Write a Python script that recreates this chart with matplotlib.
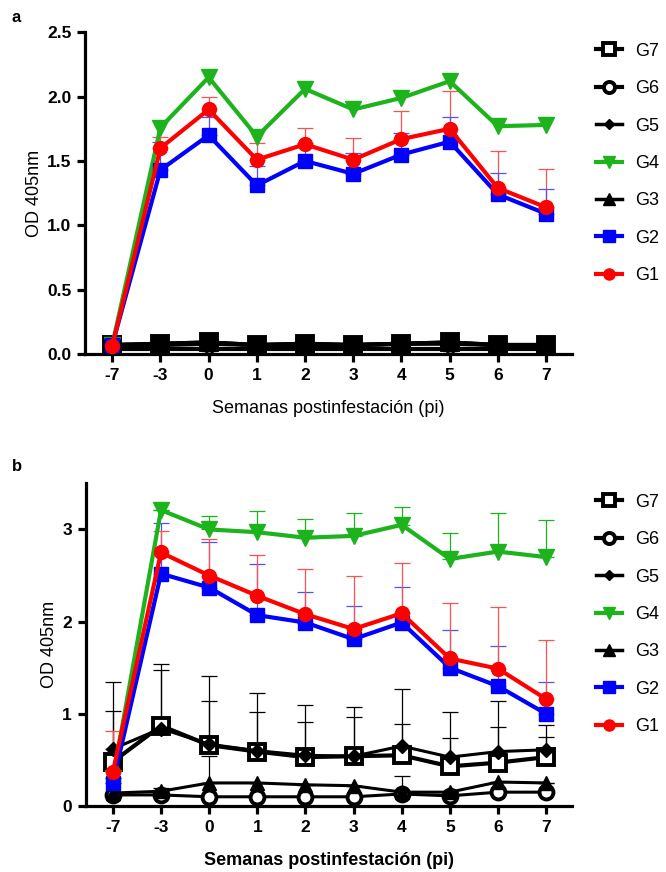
import numpy as np
import matplotlib
matplotlib.use("Agg")
import matplotlib.pyplot as plt
from matplotlib.lines import Line2D

plt.rcParams['font.family'] = ['Liberation Sans', 'DejaVu Sans']

weeks = ["-7", "-3", "0", "1", "2", "3", "4", "5", "6", "7"]
groups = ["G7", "G6", "G5", "G4", "G3", "G2", "G1"]

# panel a - mean values
a_g1 = [0.06, 1.60, 1.90, 1.51, 1.63, 1.51, 1.67, 1.75, 1.29, 1.14]
a_g2 = [0.07, 1.43, 1.70, 1.31, 1.50, 1.40, 1.55, 1.65, 1.24, 1.09]
a_g3 = [0.07, 0.07, 0.08, 0.07, 0.07, 0.07, 0.08, 0.08, 0.07, 0.07]
a_g4 = [0.07, 1.76, 2.15, 1.69, 2.06, 1.90, 1.99, 2.12, 1.77, 1.78]
a_g5 = [0.07, 0.08, 0.09, 0.07, 0.08, 0.07, 0.08, 0.09, 0.07, 0.07]
a_g6 = [0.04, 0.04, 0.04, 0.04, 0.04, 0.04, 0.04, 0.04, 0.04, 0.04]
a_g7 = [0.07, 0.08, 0.09, 0.07, 0.08, 0.07, 0.08, 0.09, 0.07, 0.07]
# panel a - top of error bars
a_g1_up = [0.06, 1.69, 2.00, 1.64, 1.76, 1.68, 1.89, 2.04, 1.58, 1.44]
a_g2_up = [0.07, 1.65, 1.84, 1.46, 1.64, 1.56, 1.72, 1.84, 1.41, 1.28]

# panel b - mean values
b_g1 = [0.37, 2.75, 2.50, 2.28, 2.08, 1.92, 2.09, 1.60, 1.49, 1.16]
b_g2 = [0.25, 2.52, 2.37, 2.07, 1.99, 1.81, 1.99, 1.50, 1.30, 1.00]
b_g3 = [0.14, 0.16, 0.25, 0.25, 0.23, 0.22, 0.15, 0.15, 0.26, 0.25]
b_g4 = [0.30, 3.21, 3.00, 2.97, 2.91, 2.93, 3.05, 2.68, 2.76, 2.70]
b_g5 = [0.62, 0.84, 0.67, 0.60, 0.55, 0.54, 0.65, 0.53, 0.59, 0.61]
b_g6 = [0.12, 0.12, 0.10, 0.10, 0.10, 0.10, 0.13, 0.11, 0.15, 0.15]
b_g7 = [0.48, 0.87, 0.66, 0.59, 0.53, 0.54, 0.55, 0.43, 0.47, 0.53]
# panel b - top of error bars
b_g1_up = [0.81, 2.98, 2.90, 2.72, 2.57, 2.49, 2.64, 2.20, 2.16, 1.80]
b_g2_up = [0.25, 3.07, 2.86, 2.62, 2.32, 2.17, 2.38, 1.91, 1.74, 1.35]
b_g3_up = [0.14, 0.19, 0.54, 0.25, 0.23, 0.22, 0.33, 0.15, 0.26, 0.25]
b_g4_up = [0.30, 3.21, 3.15, 3.20, 3.11, 3.18, 3.24, 2.96, 3.18, 3.10]
b_g5_up = [1.34, 1.54, 1.41, 1.23, 1.10, 1.07, 1.27, 1.02, 1.14, 0.88]
b_g6_up = [0.12, 0.12, 0.10, 0.10, 0.10, 0.10, 0.13, 0.11, 0.15, 0.15]
b_g7_up = [1.03, 1.47, 1.14, 1.02, 0.91, 0.96, 0.89, 0.74, 0.86, 0.75]

GREEN = "#1db31d"
BLUE = "#0000ff"
RED = "#ff0000"

styles = {
    "G7": dict(color="black", marker="s", ms=11, mfc="white", mec="black", mew=2.8),
    "G6": dict(color="black", marker="o", ms=10, mfc="white", mec="black", mew=2.8),
    "G5": dict(color="black", marker="D", ms=7, mfc="black", mec="black"),
    "G4": dict(color=GREEN, marker="v", ms=11, mfc=GREEN, mec=GREEN),
    "G3": dict(color="black", marker="^", ms=10, mfc="black", mec="black"),
    "G2": dict(color=BLUE, marker="s", ms=10, mfc=BLUE, mec=BLUE),
    "G1": dict(color=RED, marker="o", ms=10, mfc=RED, mec=RED),
}
err_colors = {"G7": "black", "G6": "black", "G5": "black", "G3": "black",
              "G4": GREEN, "G2": "#5050ff", "G1": "#ff5050"}


def draw(ax, series, ups, lw_map, ylim, yticks, yfmt, override=None):
    override = override or {}
    x = np.arange(len(weeks))
    # error bars first (upper only)
    for name, up in ups.items():
        y = np.array(series[name])
        u = np.array(up) - y
        ax.errorbar(x, y, yerr=[np.zeros_like(u), u], fmt="none",
                    ecolor=err_colors[name], elinewidth=0.9, capsize=6,
                    capthick=0.9, zorder=2)
    for name in ["G6", "G7", "G5", "G3", "G4", "G2", "G1"]:
        st = dict(styles[name])
        st.update(override.get(name, {}))
        ax.plot(x, series[name], lw=lw_map.get(name, 3.0), zorder=3,
                clip_on=False, **st)
    ax.set_xlim(-0.56, 9.54)
    ax.set_ylim(*ylim)
    ax.set_xticks(x)
    ax.set_xticklabels(weeks)
    ax.set_yticks(yticks)
    ax.set_yticklabels([yfmt.format(t) for t in yticks])
    for lab in ax.get_xticklabels() + ax.get_yticklabels():
        lab.set_fontweight("bold")
        lab.set_fontsize(12.5)
    for s in ["top", "right"]:
        ax.spines[s].set_visible(False)
    for s in ["left", "bottom"]:
        ax.spines[s].set_linewidth(2.3)
    ax.tick_params(axis="both", width=2.3, length=6, pad=4)
    ax.set_ylabel("OD 405nm", fontsize=13, labelpad=3)

    handles = [Line2D([], [], lw=3.0 if n not in ("G3", "G5") else 2.5,
                      **{k: v for k, v in styles[n].items() if k != "ms"},
                      ms=styles[n]["ms"] * 0.8)
               for n in groups]
    ax.legend(handles, groups, loc="upper left", bbox_to_anchor=(1.035, 0.99),
              frameon=False, fontsize=13, handlelength=1.4,
              handletextpad=0.75, labelspacing=1.13, borderaxespad=0)


fig = plt.figure(figsize=(6.66, 8.72), dpi=100)

ax_a = fig.add_axes([0.128, 0.594, 0.731, 0.369])
draw(ax_a,
     {"G1": a_g1, "G2": a_g2, "G3": a_g3, "G4": a_g4, "G5": a_g5,
      "G6": a_g6, "G7": a_g7},
     {"G1": a_g1_up, "G2": a_g2_up},
     {"G7": 3.0, "G6": 3.0, "G5": 3.0, "G3": 3.0},
     (0, 2.5), [0.0, 0.5, 1.0, 1.5, 2.0, 2.5], "{:.1f}",
     override={"G7": dict(mfc="black", ms=12), "G6": dict(ms=6, mew=1.5)})
ax_a.set_xlabel("Semanas postinfestación (pi)", fontsize=13, labelpad=12)

ax_b = fig.add_axes([0.129, 0.0757, 0.730, 0.370])
draw(ax_b,
     {"G1": b_g1, "G2": b_g2, "G3": b_g3, "G4": b_g4, "G5": b_g5,
      "G6": b_g6, "G7": b_g7},
     {"G7": b_g7_up, "G5": b_g5_up, "G3": b_g3_up, "G6": b_g6_up,
      "G4": b_g4_up, "G2": b_g2_up, "G1": b_g1_up},
     {"G7": 3.0, "G6": 2.2, "G5": 2.2, "G3": 2.2},
     (0, 3.5), [0, 1, 2, 3], "{:d}")
ax_b.set_xlabel("Semanas postinfestación (pi)", fontsize=13,
                fontweight="bold", labelpad=12)

fig.text(0.018, 0.975, "a", fontsize=12, fontweight="bold")
fig.text(0.018, 0.460, "b", fontsize=12, fontweight="bold")

fig.savefig("out.png", dpi=100)
